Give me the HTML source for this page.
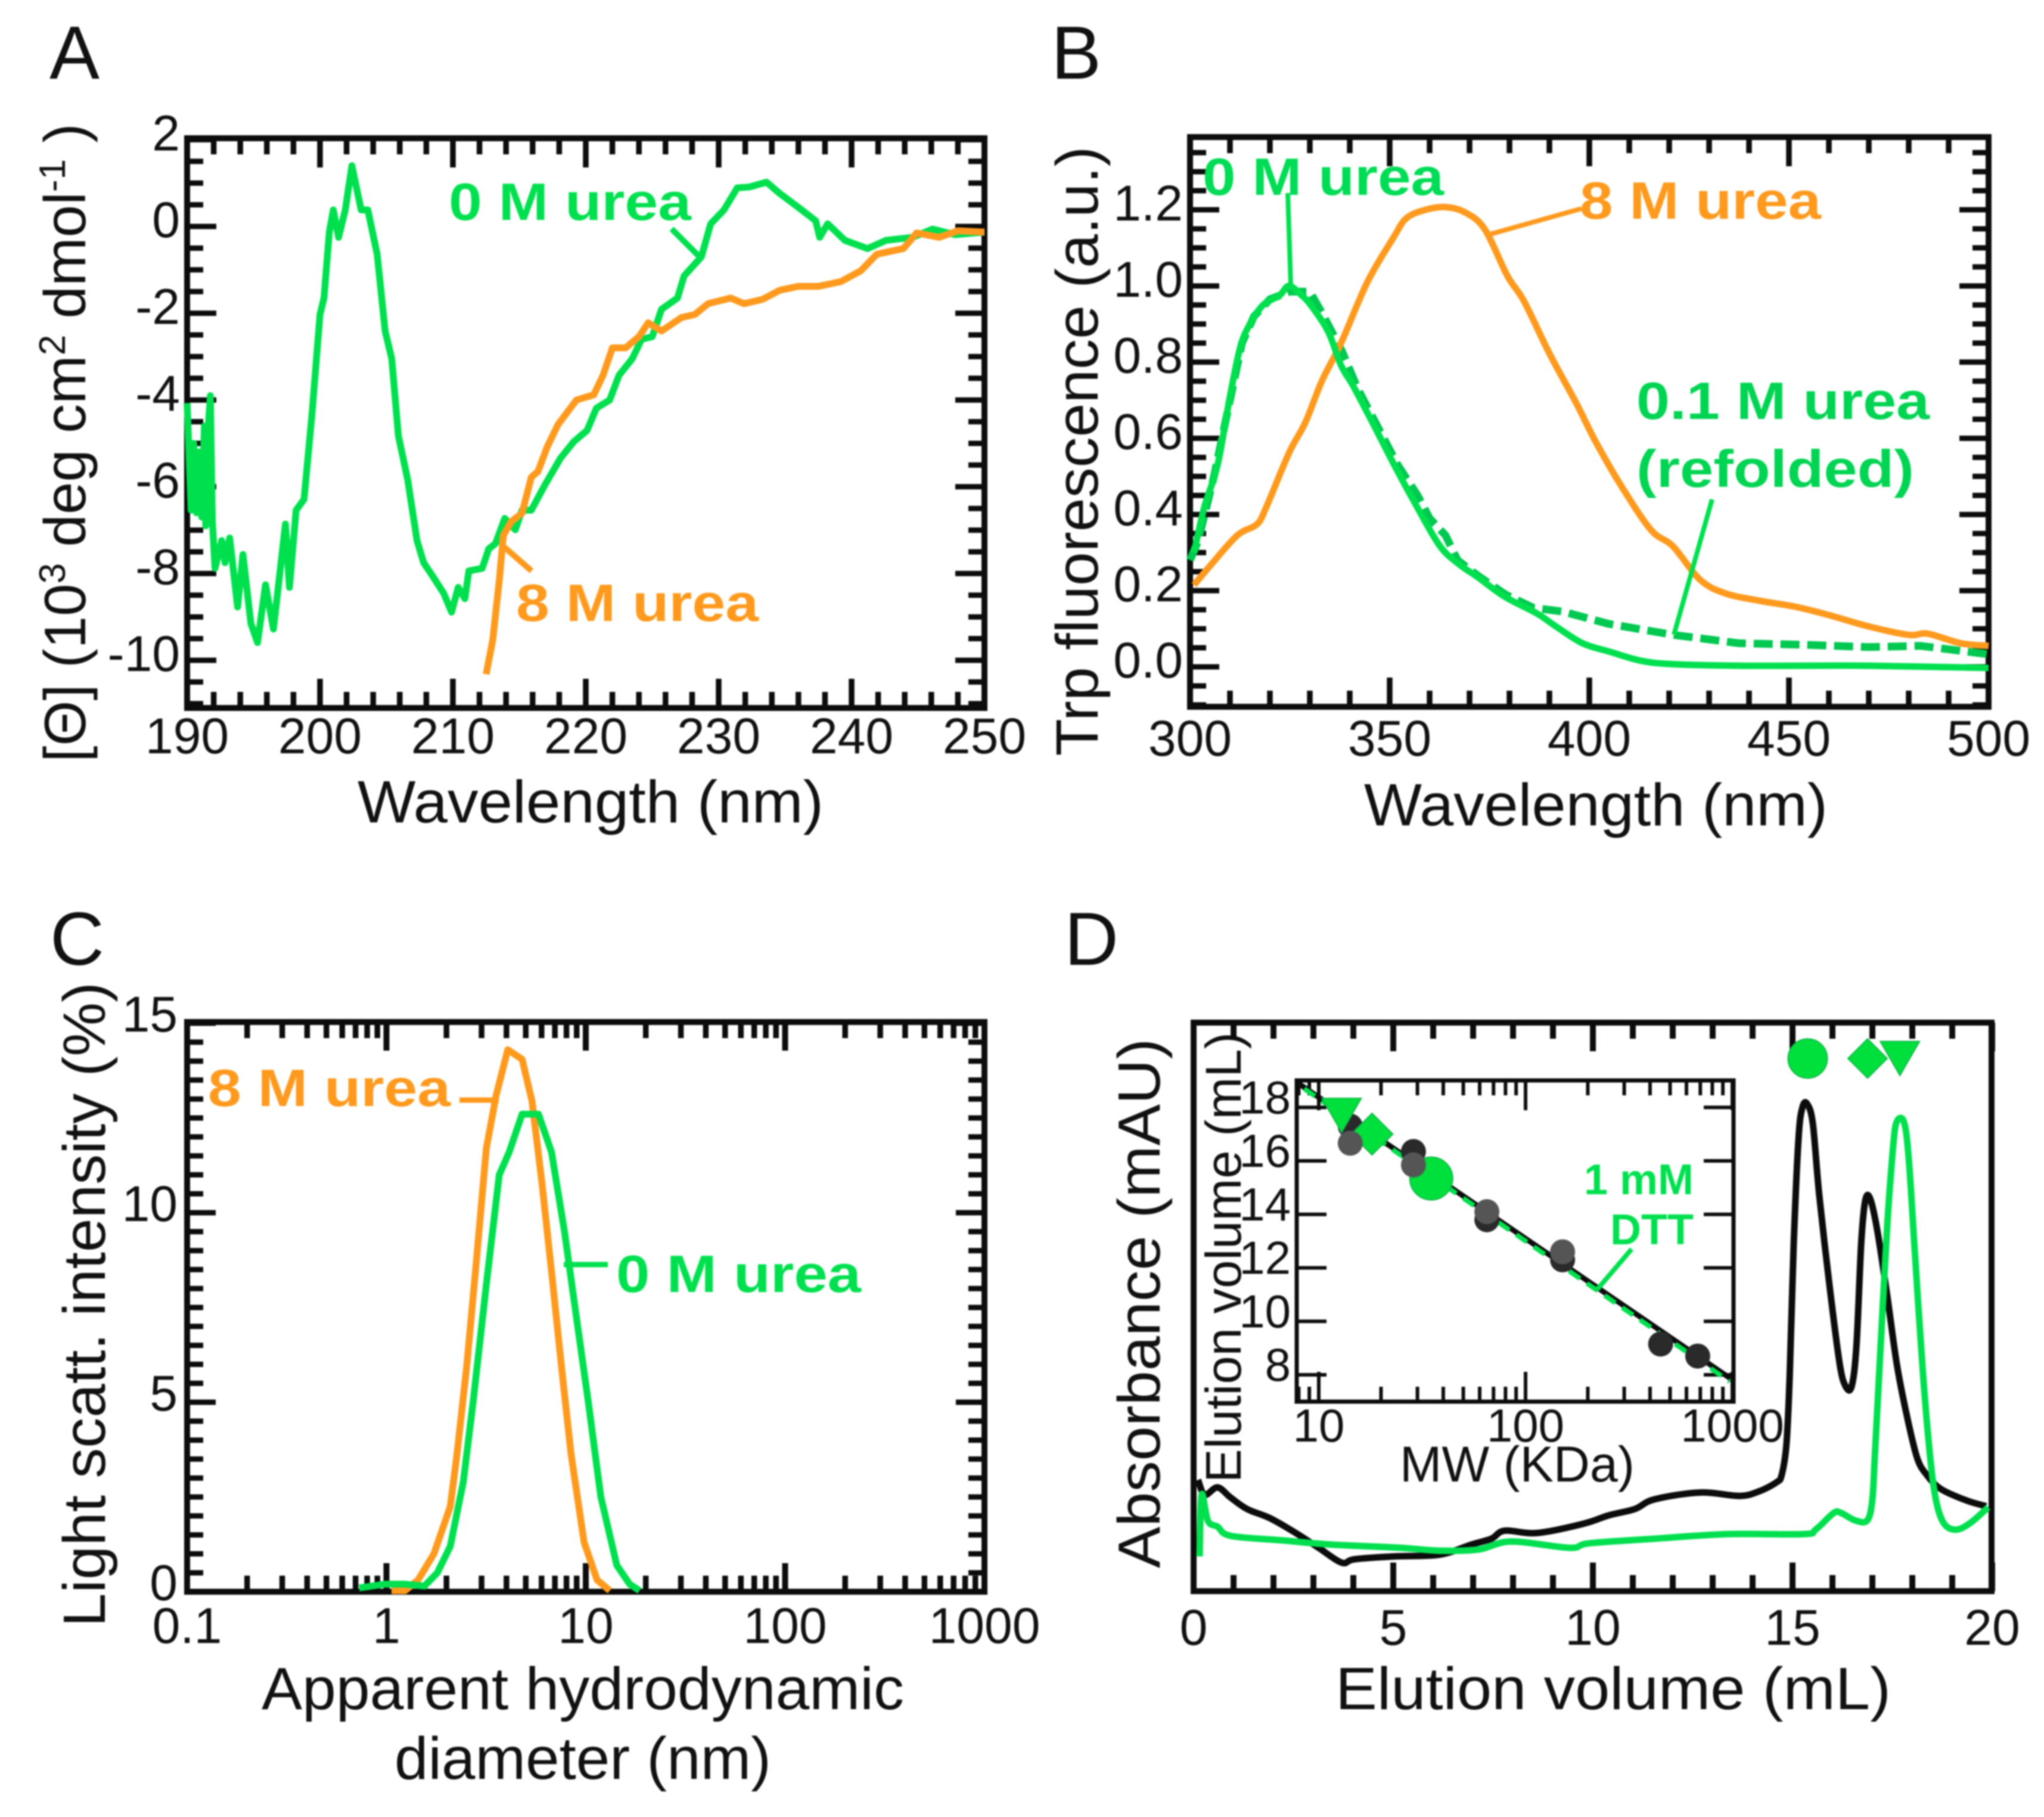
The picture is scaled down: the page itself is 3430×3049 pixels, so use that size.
<!DOCTYPE html>
<html lang="en">
<head>
<meta charset="utf-8">
<title>Protein folding characterization panels</title>
<style>
html,body{margin:0;padding:0;background:#fff}
svg{display:block;filter:blur(1.2px)}
text{font-family:"Liberation Sans",sans-serif;fill:#111}
.bold{font-weight:bold}
</style>
</head>
<body>
<svg id="fig" xmlns="http://www.w3.org/2000/svg" width="3430" height="3049" viewBox="0 0 3430 3049">
<rect x="0" y="0" width="3430" height="3049" fill="#fff"/>
<text x="83" y="132" font-size="126">A</text>
<text x="1764" y="132" font-size="126">B</text>
<text x="84" y="1619" font-size="126">C</text>
<text x="1786" y="1619" font-size="126">D</text>

<text x="991" y="1380" font-size="100" text-anchor="middle" textLength="782" lengthAdjust="spacingAndGlyphs">Wavelength (nm)</text>
<text transform="translate(143,743) rotate(-90)" font-size="98" text-anchor="middle">[Θ] (10<tspan dy="-34" font-size="62">3</tspan><tspan dy="34"> deg cm</tspan><tspan dy="-34" font-size="62">2</tspan><tspan dy="34"> dmol</tspan><tspan dy="-34" font-size="62">-1</tspan><tspan dy="34"> )</tspan></text>

<text x="2678" y="1385" font-size="100" text-anchor="middle" textLength="778" lengthAdjust="spacingAndGlyphs">Wavelength (nm)</text>
<text transform="translate(1842,757) rotate(-90)" font-size="100" text-anchor="middle" textLength="1023" lengthAdjust="spacingAndGlyphs">Trp fluorescence (a.u.)</text>

<text x="978" y="2868" font-size="100" text-anchor="middle" textLength="1078" lengthAdjust="spacingAndGlyphs">Apparent hydrodynamic</text>
<text x="978" y="2985" font-size="100" text-anchor="middle" textLength="632" lengthAdjust="spacingAndGlyphs">diameter (nm)</text>
<text transform="translate(176,2189) rotate(-90)" font-size="100" text-anchor="middle" textLength="1082" lengthAdjust="spacingAndGlyphs">Light scatt. intensity (%)</text>

<text x="2707" y="2868" font-size="100" text-anchor="middle" textLength="932" lengthAdjust="spacingAndGlyphs">Elution volume (mL)</text>
<text transform="translate(1946,2187) rotate(-90)" font-size="100" text-anchor="middle" textLength="889" lengthAdjust="spacingAndGlyphs">Absorbance (mAU)</text>

<text x="2546" y="2486" font-size="84" text-anchor="middle" textLength="394" lengthAdjust="spacingAndGlyphs">MW (KDa)</text>
<text transform="translate(2082,2110) rotate(-90)" font-size="84" text-anchor="middle" textLength="756" lengthAdjust="spacingAndGlyphs">Elution volume (mL)</text>

<g id="marks"></g>

<text class="bold" x="753" y="369" font-size="88" style="fill:#00e04f" textLength="407" lengthAdjust="spacingAndGlyphs">0 M urea</text>
<text class="bold" x="866" y="1042" font-size="88" style="fill:#ff9a1e" textLength="407" lengthAdjust="spacingAndGlyphs">8 M urea</text>
<text class="bold" x="2018" y="327" font-size="88" style="fill:#00dc55" textLength="405" lengthAdjust="spacingAndGlyphs">0 M urea</text>
<text class="bold" x="2651" y="367" font-size="88" style="fill:#ff9a1e" textLength="405" lengthAdjust="spacingAndGlyphs">8 M urea</text>
<text class="bold" x="2746" y="703" font-size="88" style="fill:#00d452" textLength="492" lengthAdjust="spacingAndGlyphs">0.1 M urea</text>
<text class="bold" x="2746" y="817" font-size="88" style="fill:#00d452" textLength="466" lengthAdjust="spacingAndGlyphs">(refolded)</text>
<text class="bold" x="349" y="1856" font-size="88" style="fill:#ff9a1e" textLength="407" lengthAdjust="spacingAndGlyphs">8 M urea</text>
<text class="bold" x="1034" y="2168" font-size="88" style="fill:#00e04f" textLength="411" lengthAdjust="spacingAndGlyphs">0 M urea</text>
<text class="bold" x="2842" y="2004" font-size="72" text-anchor="end" style="fill:#00e04f">1 mM</text>
<text class="bold" x="2842" y="2088" font-size="72" text-anchor="end" style="fill:#00e04f">DTT</text>
</svg>

<script>
// ---------- Panel A: CD spectra ----------
const aGreenWavelength = [190,190.3,190.5,190.7,190.9,191.1,191.3,191.4,191.55,191.75,191.9,192.1,192.6,192.85,193.2,193.8,194.2,194.8,195.3,195.9,196.5,197.4,197.7,198.2,198.8,199.4,200,200.3,200.7,201,201.4,201.9,202.4,203.1,203.6,204.3,204.9,205.4,205.9,206.6,207.3,207.8,208.5,209.3,209.9,210.4,210.9,211.2,212.2,212.7,213.2,213.9,214.7,215.2,215.9,216.9,218.1,219.1,220.1,220.8,221.8,222.5,223.5,224.2,225,225.7,226.9,227.4,228.7,229.4,230.4,231.4,232.3,233.6,234.6,236,237.3,237.6,238.2,239.5,241.2,242.6,244.6,246.1,247.8,250];
const aGreenTheta = [-4.07,-6.54,-5,-6.6,-5.2,-6.7,-4.6,-6.9,-4.8,-3.9,-6.8,-7.88,-7.24,-7.75,-7.18,-8.77,-7.56,-9.15,-9.59,-8.26,-9.28,-6.86,-8.32,-6.54,-6.29,-4.32,-2.03,-1.65,-0.13,0.38,-0.25,0.38,1.4,0.38,0.38,-0.64,-2.41,-3.05,-4.83,-5.84,-7.24,-7.75,-8.07,-8.45,-8.89,-8.32,-8.58,-7.94,-7.88,-7.43,-7.31,-6.73,-6.99,-6.54,-6.54,-5.97,-5.34,-4.96,-4.7,-4.19,-4,-3.43,-3.05,-2.6,-2.54,-1.91,-1.65,-1.14,-0.7,0.06,0.38,0.89,0.91,1.02,0.76,0.44,0.13,-0.25,0.06,-0.32,-0.51,-0.32,-0.25,-0.06,-0.19,-0.13];
const aOrangeWavelength = [212.5,213,213.5,213.8,214.4,215.2,215.9,216.4,217.1,217.9,219.3,220.6,221.3,222,223,224,224.7,225.7,227.2,228.2,229.2,230.9,231.9,233.3,234.6,236,237.5,239.2,240.7,241.9,243.9,244.9,246.6,248,250];
const aOrangeTheta = [-10.32,-9.53,-8.13,-7.12,-6.8,-6.61,-5.78,-5.65,-5.08,-4.57,-4,-3.88,-3.43,-2.8,-2.8,-2.54,-2.22,-2.41,-2.1,-2.03,-1.78,-1.65,-1.78,-1.68,-1.47,-1.38,-1.38,-1.27,-1.02,-0.64,-0.51,-0.15,-0.25,-0.1,-0.13];
const aXTicks = [190,200,210,220,230,240,250];
const aYTicks = [2,0,-2,-4,-6,-8,-10];

// ---------- Panel B: Trp fluorescence ----------
const bGreenWavelength = [301,303.6,306.9,310,312.6,315,318.3,322.4,324.8,328,330.5,334.6,337.9,341,346,351,355.8,362.4,367.3,372,378.7,386.9,391.8,398.3,405,413,421,437.5,453.8,470,500];
const bGreenIntensity = [0.3,0.42,0.53,0.71,0.84,0.9,0.95,0.975,1,0.975,0.946,0.88,0.79,0.735,0.635,0.533,0.44,0.32,0.27,0.236,0.185,0.14,0.105,0.062,0.04,0.016,0.007,0.003,0.003,0.003,-0.003];
const bDashWavelength = [300,302,306,310,313,316,320,325,330,333,338,342,347,352,357,360,364,367,372,379,386,393.4,404.8,421,437.5,453.8,470,483,500];
const bDashIntensity = [0.28,0.33,0.5,0.7,0.85,0.92,0.965,0.985,0.985,0.93,0.83,0.73,0.63,0.53,0.45,0.39,0.345,0.28,0.24,0.19,0.155,0.145,0.113,0.084,0.062,0.058,0.052,0.055,0.033];
const bOrangeWavelength = [301,305,311.8,316.7,319,324.8,328.9,333,337.9,344.4,351,354.2,359,364,368.9,373.8,379.5,383.6,390,396.7,401.6,408,415.4,421,427.7,434,442.4,452,460.3,470,480,484.8,493,500];
const bOrangeIntensity = [0.215,0.265,0.345,0.374,0.417,0.562,0.642,0.75,0.852,1.01,1.128,1.178,1.2,1.207,1.193,1.149,1.026,0.961,0.823,0.693,0.591,0.475,0.36,0.316,0.229,0.193,0.174,0.157,0.135,0.106,0.084,0.087,0.062,0.055];
const bXTicks = [300,350,400,450,500];
const bYTicks = [0,0.2,0.4,0.6,0.8,1,1.2];

// ---------- Panel C: Light scattering ----------
const cOrangeDiameter = [1.06,1.24,1.44,1.73,2.09,2.26,2.53,2.83,3.17,3.55,4.06,4.79,5.37,6.02,6.73,7.54,8.43,9.81,11.4,13.2];
const cOrangeIntensity = [0.03,0.03,0.31,1,2.25,3.64,5.97,8.76,11.7,13.1,14.3,14.05,12.95,10.8,8.45,5.97,3.64,1.3,0.31,0.03];
const cGreenDiameter = [0.73,0.98,1.24,1.55,1.8,2.09,2.43,2.72,3.17,3.68,4.13,4.79,5.79,6.73,7.82,8.78,10.3,11.9,14.3,16.6,18.6];
const cGreenIntensity = [0.1,0.2,0.2,0.15,0.5,1.2,2.9,5,8.1,11,11.6,12.6,12.6,11.6,9.5,7.6,5,2.5,0.7,0.2,0.03];
const cXTicks = [0.1,1,10,100,1000];
const cXTickLabels = ['0.1','1','10','100','1000'];
const cYTicks = [0,5,10,15];

// ---------- Panel D: Size-exclusion chromatography ----------
const dBlackVolume = [0.11,0.28,0.6,0.93,1.34,1.91,2.56,3.13,3.71,4.03,5.01,6.16,6.97,7.46,7.79,8.6,9.75,10.4,11.05,11.54,12.69,13.67,14.16,14.6,14.73,14.85,14.93,15.03,15.15,15.25,15.37,15.51,15.67,15.93,16.18,16.33,16.48,16.6,16.72,16.82,16.94,17.12,17.37,17.61,17.86,18.12,18.36,18.72,19.36,19.85];
const dBlackAbs = [19.6,17,18.3,16.5,14.5,12.9,10.3,7.7,5.1,5.7,6.2,6.5,8.3,9.3,10.7,10.3,11.9,13.4,14.5,16.2,17.4,16.8,17.6,19.2,20.5,26,38,61,79.5,85,85.5,82,69.5,53.5,40,36,36,43,61,68.5,69,63.5,52,40,31,23.5,20.5,18,16,15];
const dGreenVolume = [0.15,0.2,0.36,0.6,0.93,2.24,3.38,5.18,6.16,7.13,7.95,9.42,9.91,11.54,13.39,15.28,15.58,16.03,16.22,16.57,16.87,17,17.07,17.22,17.37,17.52,17.61,17.79,17.91,18.06,18.27,18.46,18.61,18.81,19.11,19.46,19.9];
const dGreenAbs = [6.2,17,12.4,11.4,9.8,9,8.3,7.7,7.2,7.4,8.8,7.7,8.5,9.3,10.1,10.1,10.9,13.8,13.8,12.5,12.5,16.2,24.9,44.8,64,78,82.4,82.4,76,60,38,22.8,15.5,11.8,10.9,12.1,14.8];
const dXTicks = [0,5,10,15,20];
const dPeakCircleVolume = [15.38];
const dPeakDiamondVolume = [16.88];
const dPeakTriangleVolume = [17.69];
const dPeakMarkerLevel = [93.5];

// ---------- Panel D inset: calibration ----------
const insetDarkMw = [14.2,28.7,65,151,450,680];
const insetDarkVol = [17.3,16.35,13.8,12.3,9.15,8.7];
const insetGrayMw = [14.2,28.7,65,151];
const insetGrayVol = [16.66,15.85,14.1,12.6];
const insetFitMw = [8.04,1024];
const insetFitVol = [18.88,7.76];
const insetDashMw = [8.5,970];
const insetDashVol = [18.7,7.75];
const insetTriangleMw = [12.9];
const insetTriangleVol = [17.7];
const insetDiamondMw = [18.1];
const insetDiamondVol = [17];
const insetCircleMw = [35];
const insetCircleVol = [15.34];
const insetXTicks = [10,100,1000];
const insetYTicks = [8,10,12,14,16,18];

const GREEN = '#00e04f', ORANGE = '#ff9a1e', BLACK = '#0c0c0c';
const NS = 'http://www.w3.org/2000/svg';
const root = document.getElementById('marks');

function lin(d0, d1, r0, r1) { return v => r0 + (v - d0) * (r1 - r0) / (d1 - d0); }
function logs(d0, d1, r0, r1) { return v => r0 + (Math.log10(v) - Math.log10(d0)) * (r1 - r0) / (Math.log10(d1) - Math.log10(d0)); }

function add(tag, name, attrs) {
  const el = document.createElementNS(NS, tag);
  
  
  for (const k in attrs) el.setAttribute(k, attrs[k]);
  root.appendChild(el);
  return el;
}
function pathData(pts, smooth) {
  if (!smooth) return pts.map((p, i) => (i ? 'L' : 'M') + p[0].toFixed(1) + ' ' + p[1].toFixed(1)).join('');
  let d = 'M' + pts[0][0].toFixed(1) + ' ' + pts[0][1].toFixed(1);
  for (let i = 0; i < pts.length - 1; i++) {
    const p0 = pts[Math.max(0, i - 1)], p1 = pts[i], p2 = pts[i + 1], p3 = pts[Math.min(pts.length - 1, i + 2)];
    const c1x = p1[0] + (p2[0] - p0[0]) / 6, c1y = p1[1] + (p2[1] - p0[1]) / 6;
    const c2x = p2[0] - (p3[0] - p1[0]) / 6, c2y = p2[1] - (p3[1] - p1[1]) / 6;
    d += 'C' + c1x.toFixed(1) + ' ' + c1y.toFixed(1) + ' ' + c2x.toFixed(1) + ' ' + c2y.toFixed(1) + ' ' + p2[0].toFixed(1) + ' ' + p2[1].toFixed(1);
  }
  return d;
}
function series(name, xs, ys, sx, sy, color, width, dash, smooth) {
  const pts = xs.map((x, i) => [sx(x), sy(ys[i])]);
  const attrs = { d: pathData(pts, smooth), fill: 'none', stroke: color, 'stroke-width': width, 'stroke-linejoin': 'round', 'stroke-linecap': 'butt' };
  if (dash) attrs['stroke-dasharray'] = dash;
  add('path', name, attrs);
}
function seg(name, x1, y1, x2, y2, color, width) {
  add('line', name, { x1: x1, y1: y1, x2: x2, y2: y2, stroke: color, 'stroke-width': width });
}
function label(name, x, y, str, size, anchor) {
  const el = add('text', name, { x: x, y: y, 'font-size': size, 'text-anchor': anchor });
  el.textContent = str;
}
function frame(name, b, w) {
  add('rect', name, { x: b.l, y: b.t, width: b.r - b.l, height: b.b - b.t, fill: 'none', stroke: BLACK, 'stroke-width': w });
}
function xTicksAt(name, b, px, len, w) {
  seg(name + '-bottom', px, b.b, px, b.b - len, BLACK, w);
  seg(name + '-top', px, b.t, px, b.t + len, BLACK, w);
}
function yTicksAt(name, b, py, len, w) {
  seg(name + '-left', b.l, py, b.l + len, py, BLACK, w);
  seg(name + '-right', b.r, py, b.r - len, py, BLACK, w);
}
function logMinor(lo, hi) {
  const out = [];
  for (let dec = lo; dec < hi; dec *= 10) for (let m = 2; m <= 9; m++) out.push(dec * m);
  return out;
}
function circleMark(name, cx, cy, r) {
  add('circle', name, { cx: cx, cy: cy, r: r, fill: '#00e03c', stroke: '#12b84a', 'stroke-width': 2 });
}
function diamondMark(name, cx, cy, r) {
  add('polygon', name, { points: [cx - r, cy, cx, cy - r, cx + r, cy, cx, cy + r].join(','), fill: '#00e03c', stroke: '#12b84a', 'stroke-width': 2 });
}
function triangleMark(name, cx, cy, r) {
  add('polygon', name, { points: [cx - r, cy - r * 0.87, cx + r, cy - r * 0.87, cx, cy + r * 0.87].join(','), fill: '#00e03c', stroke: '#12b84a', 'stroke-width': 2 });
}

// ---------- Panel A ----------
(function () {
  const b = { l: 314, r: 1652, t: 232, b: 1188 };
  const sx = lin(190, 250, 314, 1652), sy = lin(0, -10, 380, 1108);
  for (let v = 190; v <= 250; v += 2) xTicksAt('a-x-tick', b, sx(v), v % 10 === 0 ? 49 : 27, 9.5);
  for (let v = -11; v <= 2; v += 0.5) yTicksAt('a-y-tick', b, sy(v), v % 2 === 0 ? 49 : 27, 9);
  frame('a-plot-frame', b, 10);
  aXTicks.forEach(v => label('a-x-tick-label', sx(v), 1264, String(v), 84, 'middle'));
  aYTicks.forEach(v => label('a-y-tick-label', 302, sy(v) + 18, String(v), 84, 'end'));
  series('a-series-0m-urea', aGreenWavelength, aGreenTheta, sx, sy, GREEN, 11.5);
  series('a-series-8m-urea', aOrangeWavelength, aOrangeTheta, sx, sy, ORANGE, 11.5);
  seg('a-connector-0m-urea', 1127, 384, 1173, 430, GREEN, 10);
  seg('a-connector-8m-urea', 892, 958, 845, 917, ORANGE, 10);
})();

// ---------- Panel B ----------
(function () {
  const b = { l: 1997, r: 3337, t: 230, b: 1186 };
  const sx = lin(300, 500, 1997, 3337), sy = lin(0, 1.2, 1119, 352);
  for (let v = 300; v <= 500; v += 10) xTicksAt('b-x-tick', b, sx(v), v % 50 === 0 ? 49 : 27, 9.5);
  for (let i = -2; i <= 27; i++) yTicksAt('b-y-tick', b, sy(i * 0.05), i % 4 === 0 ? 49 : 27, 9);
  frame('b-plot-frame', b, 10);
  bXTicks.forEach(v => label('b-x-tick-label', sx(v), 1268, String(v), 84, 'middle'));
  bYTicks.forEach(v => label('b-y-tick-label', 1985, sy(v) + 18, v.toFixed(1), 84, 'end'));
  series('b-series-0-1m-refolded', bDashWavelength, bDashIntensity, sx, sy, '#00c850', 13, '32 13');
  series('b-series-8m-urea', bOrangeWavelength, bOrangeIntensity, sx, sy, ORANGE, 11, null, true);
  series('b-series-0m-urea', bGreenWavelength, bGreenIntensity, sx, sy, GREEN, 11, null, true);
  seg('b-connector-0m-urea', 2161, 324, 2166, 477, GREEN, 8);
  seg('b-connector-8m-urea', 2654, 350, 2497, 394, ORANGE, 8);
  seg('b-connector-refolded', 2873, 838, 2809, 1065, GREEN, 8);
})();

// ---------- Panel C ----------
(function () {
  const b = { l: 314, r: 1652, t: 1715, b: 2671 };
  const sx = logs(0.1, 1000, 314, 1652), sy = lin(0, 15, 2671, 1717);
  cXTicks.forEach(v => xTicksAt('c-x-major-tick', b, sx(v), 48, 10));
  logMinor(0.1, 1000).forEach(v => xTicksAt('c-x-minor-tick', b, sx(v), 27, 9.5));
  for (let v = 0; v <= 15; v += 0.5) yTicksAt('c-y-tick', b, sy(v), v % 5 === 0 ? 48 : 27, 9);
  frame('c-plot-frame', b, 10);
  cXTicks.forEach((v, i) => label('c-x-tick-label', sx(v), 2757, cXTickLabels[i], 84, 'middle'));
  cYTicks.forEach(v => label('c-y-tick-label', 298, sy(v) + 14, String(v), 84, 'end'));
  series('c-series-8m-urea', cOrangeDiameter, cOrangeIntensity, sx, sy, ORANGE, 11.5);
  series('c-series-0m-urea', cGreenDiameter, cGreenIntensity, sx, sy, GREEN, 11.5);
  seg('c-connector-8m-urea', 771, 1846, 837, 1846, ORANGE, 9);
  seg('c-connector-0m-urea', 946, 2122, 1020, 2122, GREEN, 9);
})();

// ---------- Panel D ----------
(function () {
  const b = { l: 2003, r: 3342, t: 1716, b: 2670 };
  const sx = lin(0, 20, 2003, 3343), sy = lin(0, 100, 2671, 1714);
  for (let v = 0; v <= 20; v += 1) xTicksAt('d-x-tick', b, sx(v), v % 5 === 0 ? 48 : 27, 10);
  frame('d-plot-frame', b, 10);
  dXTicks.forEach(v => label('d-x-tick-label', sx(v), 2760, String(v), 84, 'middle'));
  series('d-series-black', dBlackVolume, dBlackAbs, sx, sy, BLACK, 11, null, true);
  series('d-series-green', dGreenVolume, dGreenAbs, sx, sy, GREEN, 11, null, true);
  circleMark('d-peak-circle-marker', sx(dPeakCircleVolume[0]), sy(dPeakMarkerLevel[0]), 33);
  diamondMark('d-peak-diamond-marker', sx(dPeakDiamondVolume[0]), sy(dPeakMarkerLevel[0]), 33);
  triangleMark('d-peak-triangle-marker', sx(dPeakTriangleVolume[0]), sy(dPeakMarkerLevel[0]), 33);

  // Inset
  const ib = { l: 2176, r: 2909, t: 1813, b: 2352 };
  const ix = logs(10, 1000, 2213, 2907), iy = lin(16, 8, 1948, 2307);
  insetXTicks.forEach(v => xTicksAt('inset-x-major-tick', ib, ix(v), 50, 6));
  logMinor(10, 1000).forEach(v => xTicksAt('inset-x-minor-tick', ib, ix(v), 25, 6));
  xTicksAt('inset-x-minor-tick', ib, ix(8), 25, 6);
  xTicksAt('inset-x-minor-tick', ib, ix(9), 25, 6);
  insetYTicks.forEach(v => yTicksAt('inset-y-tick', ib, iy(v), 50, 6));
  frame('inset-plot-frame', ib, 7);
  insetXTicks.forEach(v => label('inset-x-tick-label', ix(v), 2419, String(v), 78, 'middle'));
  insetYTicks.forEach(v => label('inset-y-tick-label', 2166, iy(v) + 10, String(v), 78, 'end'));
  series('inset-fit-line', insetFitMw, insetFitVol, ix, iy, BLACK, 9);
  series('inset-dtt-fit-line', insetDashMw, insetDashVol, ix, iy, GREEN, 8, '22 14');
  insetDarkMw.forEach((m, i) => add('circle', 'inset-standard-point', { cx: ix(m), cy: iy(insetDarkVol[i]), r: 21, fill: '#2a2a2a' }));
  triangleMark('inset-triangle-marker', ix(insetTriangleMw[0]), iy(insetTriangleVol[0]), 33);
  diamondMark('inset-diamond-marker', ix(insetDiamondMw[0]), iy(insetDiamondVol[0]), 35);
  circleMark('inset-circle-marker', ix(insetCircleMw[0]), iy(insetCircleVol[0]), 36);
  insetGrayMw.forEach((m, i) => add('circle', 'inset-standard-point-gray', { cx: ix(m), cy: iy(insetGrayVol[i]), r: 21, fill: '#555555' }));
  seg('inset-connector-dtt', 2738, 2096, 2680, 2164, GREEN, 8);
})();
</script>
</body>
</html>
